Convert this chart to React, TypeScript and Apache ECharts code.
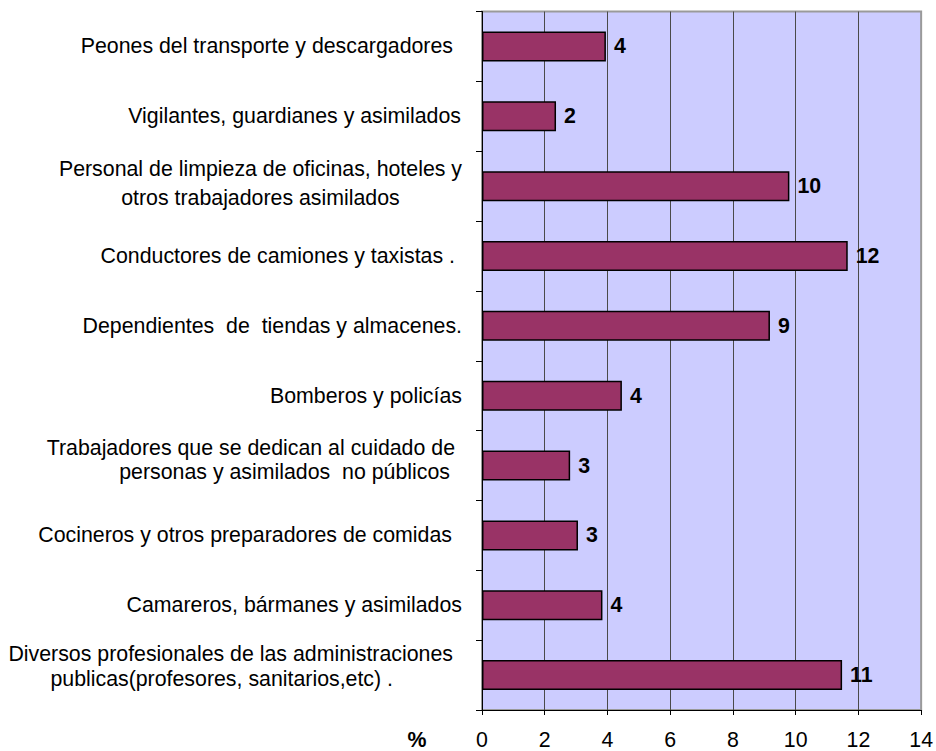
import React, { useEffect, useRef } from "react";
import * as echarts from "echarts";

const categories: string[] = [
  "Peones del transporte y descargadores",
  "Vigilantes, guardianes y asimilados",
  "Personal de limpieza de oficinas, hoteles y\notros trabajadores asimilados",
  "Conductores de camiones y taxistas .",
  "Dependientes  de  tiendas y almacenes.",
  "Bomberos y policías",
  "Trabajadores que se dedican al cuidado de\npersonas y asimilados  no públicos",
  "Cocineros y otros preparadores de comidas",
  "Camareros, bármanes y asimilados",
  "Diversos profesionales de las administraciones\npublicas(profesores, sanitarios,etc) .",
];

const values: number[] = [3.95, 2.36, 9.8, 11.66, 9.18, 4.46, 2.81, 3.06, 3.84, 11.48];

const xMin = 0;
const xMax = 14;
const xStep = 2;
const axisTitle = "%";

const FONT = "'Liberation Sans', Arial, Helvetica, sans-serif";
const FS = 21.33;

// rich style key for each line of each category label (layout only)
const labelKeys: string[][] = [
  ["r9"],
  ["r1"],
  ["pc1", "pc2"],
  ["r7"],
  ["r0"],
  ["r0"],
  ["t1", "t2"],
  ["r10"],
  ["r0"],
  ["d1", "d2"],
];

const base = { fontSize: FS, fontFamily: FONT, color: "#000" };
const rich: Record<string, any> = {
  r0: { ...base, align: "right", lineHeight: 24 },
  r1: { ...base, align: "right", lineHeight: 24, padding: [0, 1, 0, 0] },
  r7: { ...base, align: "right", lineHeight: 24, padding: [0, 7, 0, 0] },
  r9: { ...base, align: "right", lineHeight: 24, padding: [0, 9, 0, 0] },
  r10: { ...base, align: "right", lineHeight: 24, padding: [0, 10, 0, 0] },
  pc1: { ...base, align: "center", lineHeight: 24 },
  pc2: { ...base, align: "center", lineHeight: 34 },
  t1: { ...base, align: "right", lineHeight: 13.5, padding: [0, 7, 0, 0] },
  t2: { ...base, align: "right", lineHeight: 35.5, padding: [0, 12, 0, 0] },
  d1: { ...base, align: "right", lineHeight: 8, padding: [0, 9, 0, 0] },
  d2: { ...base, align: "right", lineHeight: 42, padding: [0, 69, 0, 0] },
};

export default function App() {
  const ref = useRef<HTMLDivElement>(null);

  useEffect(() => {
    if (!ref.current) return;
    const chart = echarts.init(ref.current, undefined, { renderer: "svg" });
    chart.setOption({
      animation: false,
      backgroundColor: "#ffffff",
      grid: {
        left: 482,
        right: 13.5,
        top: 11.5,
        bottom: 41,
        show: true,
        backgroundColor: "#CCCCFF",
        borderColor: "#9a9a9a",
        borderWidth: 2,
      },
      xAxis: {
        type: "value",
        min: xMin,
        max: xMax,
        interval: xStep,
        axisLine: { show: true, lineStyle: { color: "#000", width: 1 } },
        axisTick: { show: true, length: 5, lineStyle: { color: "#000", width: 1 } },
        splitLine: {
          show: true,
          showMinLine: false,
          showMaxLine: false,
          lineStyle: { color: "#4a4a4a", width: 1 },
        },
        axisLabel: { margin: 19, fontSize: FS, color: "#000", fontFamily: FONT },
      },
      yAxis: {
        type: "category",
        inverse: true,
        data: categories,
        axisLine: { show: true, lineStyle: { color: "#000", width: 1 } },
        axisTick: { show: true, length: 6, lineStyle: { color: "#000", width: 1 } },
        splitLine: { show: false },
        axisLabel: {
          interval: 0,
          margin: 20,
          formatter: (value: string, index: number) => {
            const lines = value.split("\n");
            const keys = labelKeys[index] || [];
            return lines.map((l, j) => `{${keys[j] || "r0"}|${l}}`).join("\n");
          },
          rich,
        },
      },
      series: [
        {
          type: "bar",
          data: values,
          barWidth: 30,
          itemStyle: { color: "#993366", borderColor: "#000", borderWidth: 1.5 },
          label: {
            show: true,
            position: "right",
            distance: 8,
            formatter: (p: any) => String(Math.round(p.value)),
            fontSize: FS,
            fontWeight: "bold",
            color: "#000",
            fontFamily: FONT,
          },
        },
      ],
      graphic: [
        {
          type: "text",
          x: 417,
          y: 740,
          style: {
            text: axisTitle,
            fontSize: FS,
            fontWeight: "bold",
            fontFamily: FONT,
            fill: "#000",
            align: "center",
            verticalAlign: "middle",
          },
        },
      ],
    });
    return () => chart.dispose();
  }, []);

  return (
    <div
      ref={ref}
      style={{ position: "absolute", left: 0, top: 0, width: 936, height: 751, background: "#fff" }}
    />
  );
}
